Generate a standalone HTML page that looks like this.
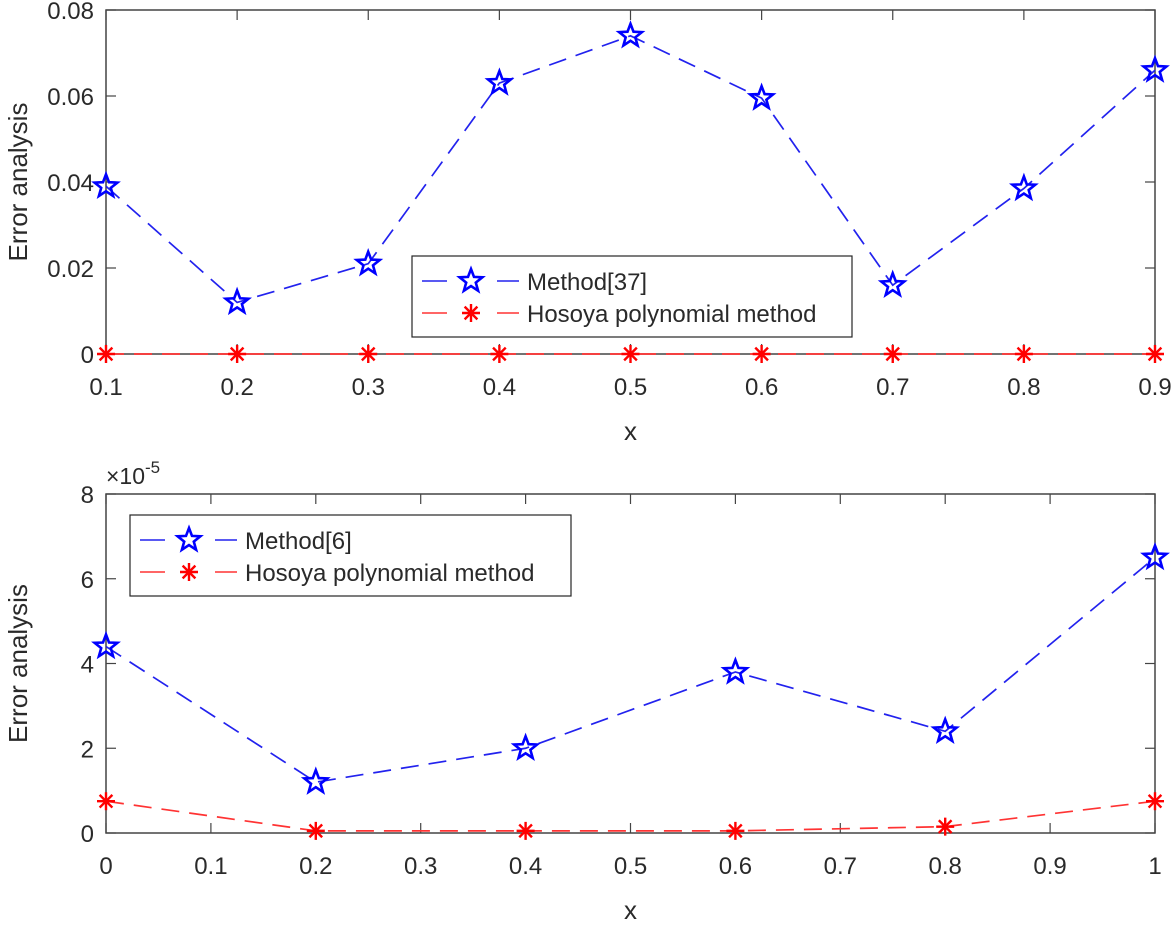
<!DOCTYPE html>
<html><head><meta charset="utf-8"><style>
body{margin:0;background:#fff}
svg text{font-family:"Liberation Sans",sans-serif;fill:#2a2a2a}
</style></head><body>
<svg id="fig" width="1174" height="920"></svg>
<script>
const topX=[0.1,0.2,0.3,0.4,0.5,0.6,0.7,0.8,0.9];
const topMethod=[0.039,0.012,0.021,0.063,0.074,0.0595,0.016,0.0385,0.066];
const topHosoya=[0,0,0,0,0,0,0,0,0];
const topXTicks=["0.1","0.2","0.3","0.4","0.5","0.6","0.7","0.8","0.9"];
const topYTicks=["0","0.02","0.04","0.06","0.08"];
const botX=[0,0.2,0.4,0.6,0.8,1];
const botMethod=[4.4,1.2,2.0,3.8,2.4,6.5];
const botHosoya=[0.75,0.05,0.05,0.05,0.15,0.75];
const botXTicks=["0","0.1","0.2","0.3","0.4","0.5","0.6","0.7","0.8","0.9","1"];
const botYTicks=["0","2","4","6","8"];

const NS="http://www.w3.org/2000/svg";
const svg=document.getElementById('fig');
function mk(tag,attrs,parent){const e=document.createElementNS(NS,tag);for(const k in attrs)e.setAttribute(k,attrs[k]);(parent||svg).appendChild(e);return e;}
function star(g,cx,cy,r){let p=[];for(let i=0;i<10;i++){const a=-Math.PI/2+i*Math.PI/5;const rr=i%2?r*0.42:r;p.push((cx+rr*Math.cos(a)).toFixed(1)+','+(cy+rr*Math.sin(a)).toFixed(1));}
 const s=mk('polygon',{points:p.join(' '),fill:'none',stroke:'#0000ff','stroke-width':2.6},g);return s;}
function aster(g,cx,cy,r){const s=mk('g',{stroke:'#ff0000','stroke-width':2.4},g);
 for(const a of [0,45,90,135]){const t=a*Math.PI/180;mk('line',{x1:cx-r*Math.cos(t),y1:cy-r*Math.sin(t),x2:cx+r*Math.cos(t),y2:cy+r*Math.sin(t)},s);}return s;}

function panel(o){
 const g=mk('g',{});
 const L=106,R=1155,T=o.T,B=o.B;
 const sx=v=>L+(v-o.xmin)/(o.xmax-o.xmin)*(R-L);
 const sy=v=>B-(v-o.ymin)/(o.ymax-o.ymin)*(B-T);
 const box=mk('rect',{x:L,y:T,width:R-L,height:B-T,fill:'#fff',stroke:'#444','stroke-width':1.5},g);
 
 o.xt.forEach((t,i)=>{const v=o.xmin+i*(o.xmax-o.xmin)/(o.xt.length-1);const x=sx(v);
  mk('line',{x1:x,y1:B,x2:x,y2:B-10,stroke:'#444','stroke-width':1.2},g);
  mk('line',{x1:x,y1:T,x2:x,y2:T+10,stroke:'#444','stroke-width':1.2},g);
  const tx=mk('text',{x:x,y:B+41,'text-anchor':'middle','font-size':24},g);tx.textContent=t;
  });
 o.yt.forEach((t,i)=>{const v=o.ymin+i*(o.ymax-o.ymin)/(o.yt.length-1);const y=sy(v);
  mk('line',{x1:L,y1:y,x2:L+10,y2:y,stroke:'#444','stroke-width':1.2},g);
  mk('line',{x1:R,y1:y,x2:R-10,y2:y,stroke:'#444','stroke-width':1.2},g);
  const tx=mk('text',{x:L-12,y:y+9,'text-anchor':'end','font-size':24},g);tx.textContent=t;
  });
 const xl=mk('text',{x:(L+R)/2,y:B+86,'text-anchor':'middle','font-size':26},g);xl.textContent='x';
 
 const yl=mk('text',{x:0,y:0,'text-anchor':'middle','font-size':26,transform:`translate(27,${(T+B)/2}) rotate(-90)`},g);yl.textContent='Error analysis';
 
 if(o.exp){const e=mk('text',{x:L,y:T-10,'font-size':23},g);e.innerHTML='×10<tspan dy="-11" font-size="17">-5</tspan>';
  }
 const hp=o.xs.map((v,i)=>sx(v)+','+sy(o.h[i])).join(' ');
 const hl=mk('polyline',{points:hp,fill:'none',stroke:'#ff3333','stroke-width':1.7,'stroke-dasharray':'18,10'},g);
 
 const mp=o.xs.map((v,i)=>sx(v)+','+sy(o.m[i])).join(' ');
 const ml=mk('polyline',{points:mp,fill:'none',stroke:'#2222ee','stroke-width':1.7,'stroke-dasharray':'18,10'},g);
 
 o.xs.forEach((v,i)=>{const a=aster(g,sx(v),sy(o.h[i]),9);});
 o.xs.forEach((v,i)=>{const s=star(g,sx(v),sy(o.m[i]),12);});
 const lg=mk('g',{},g);
 const [lx,ly,lw,lh]=o.leg;
 mk('rect',{x:lx,y:ly,width:lw,height:lh,fill:'#fff',stroke:'#262626','stroke-width':1.2},lg);
 [[o.lab1,'#2222ee',0],['Hosoya polynomial method','#ff3333',1]].forEach(([t,c,k])=>{
  const y=ly+25+k*32;
  mk('line',{x1:lx+10,y1:y,x2:lx+35,y2:y,stroke:c,'stroke-width':1.5},lg);
  mk('line',{x1:lx+85,y1:y,x2:lx+107,y2:y,stroke:c,'stroke-width':1.5},lg);
  if(k===0)star(lg,lx+59,y,12);else aster(lg,lx+59,y,9);
  const tx=mk('text',{x:lx+115,y:y+9,'font-size':24},lg);tx.textContent=t;
  });
}
panel({name:'top-panel',T:10,B:354,xmin:0.1,xmax:0.9,ymin:0,ymax:0.08,xt:topXTicks,yt:topYTicks,xs:topX,m:topMethod,h:topHosoya,leg:[412,256,440,81],lab1:'Method[37]'});
panel({name:'bottom-panel',T:494,B:833,xmin:0,xmax:1,ymin:0,ymax:8,xt:botXTicks,yt:botYTicks,xs:botX,m:botMethod,h:botHosoya,leg:[130,515,441,81],lab1:'Method[6]',exp:true});
</script>
</body></html>
